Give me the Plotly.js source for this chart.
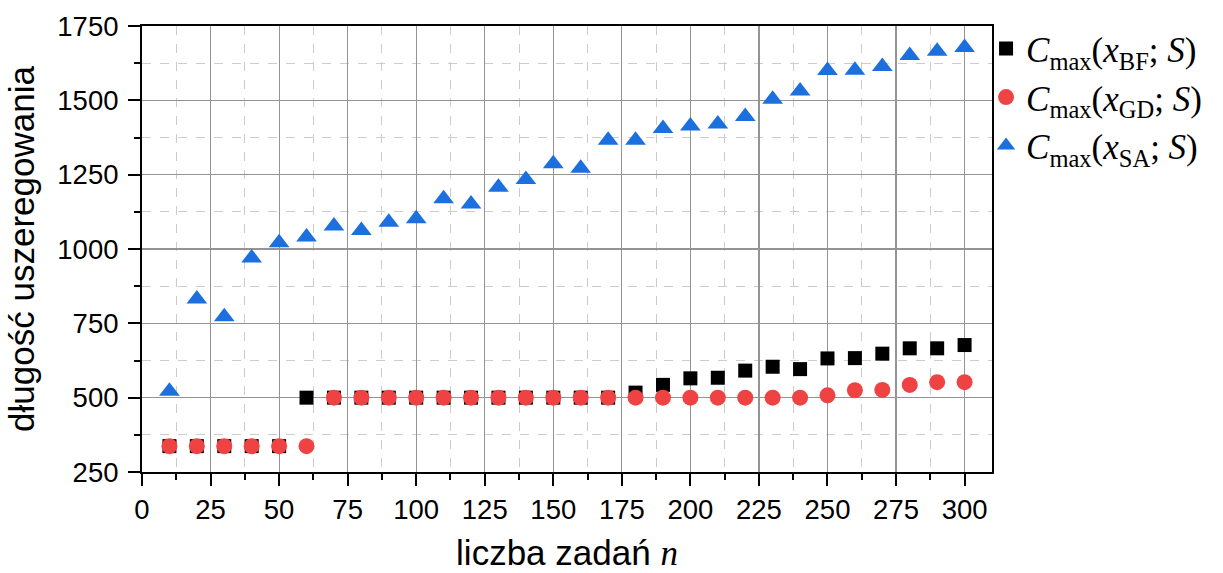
<!DOCTYPE html>
<html>
<head>
<meta charset="utf-8">
<script src="https://cdn.plot.ly/plotly-3.0.1.min.js"></script>
<style>
html,body{margin:0;padding:0;background:#fff;}
#chart{width:1223px;height:573px;}
</style>
</head>
<body>
<div id="chart"></div>
<script>
const nValues = [10,20,30,40,50,60,70,80,90,100,110,120,130,140,150,160,170,180,190,200,210,220,230,240,250,260,270,280,290,300];
const cmaxBF = [337,337,337,337,337,500,500,500,500,500,500,500,500,500,500,500,500,517,543,565,567,591,604,596,632,633,648,666,666,677];
const cmaxGD = [337,337,337,337,337,337,500,500,500,500,500,500,500,500,500,500,500,500,500,500,500,500,500,500,508,525,526,543,552,552];
const cmaxSA = [522,832,772,970,1021,1040,1077,1062,1090,1102,1169,1151,1208,1234,1287,1272,1366,1366,1405,1414,1420,1446,1504,1531,1600,1601,1614,1651,1665,1678];
const seriesNames = [
  '<i>C</i><sub>max</sub>(<i>x</i><sub>BF</sub>; <i>S</i>)',
  '<i>C</i><sub>max</sub>(<i>x</i><sub>GD</sub>; <i>S</i>)',
  '<i>C</i><sub>max</sub>(<i>x</i><sub>SA</sub>; <i>S</i>)'
];
const xTickVals = [0,25,50,75,100,125,150,175,200,225,250,275,300];
const yTickVals = [250,500,750,1000,1250,1500,1750];
const xTitle = 'liczba zadań <i style="font-family:\'Liberation Serif\'">n</i>';
const yTitle = 'długość uszeregowania';

const traces = [
  {x:nValues, y:cmaxBF, name:seriesNames[0], type:'scatter', mode:'markers',
   marker:{symbol:'square', size:14, color:'#000000'}},
  {x:nValues, y:cmaxGD, name:seriesNames[1], type:'scatter', mode:'markers',
   marker:{symbol:'circle', size:16, color:'#EF4343'}},
  {x:nValues, y:cmaxSA, name:seriesNames[2], type:'scatter', mode:'markers',
   marker:{symbol:'triangle-up', size:18, color:'#1B6FDE'}}
];

const axisCommon = {
  showline:true, linecolor:'#000', linewidth:2, mirror:true,
  ticks:'outside', ticklen:12, tickwidth:2, tickcolor:'#000',
  showgrid:true, gridcolor:'#949494', gridwidth:1.2,
  zeroline:false,
  tickfont:{family:'Liberation Sans, Arial, sans-serif', size:27.5, color:'#000'}
};

const layout = {
  width:1223, height:573,
  margin:{l:142, r:231, t:26, b:101},
  paper_bgcolor:'#fff', plot_bgcolor:'#fff',
  showlegend:true,
  legend:{x:0.993, xanchor:'left', y:1.015, yanchor:'top',
    font:{family:'Liberation Serif, DejaVu Serif, serif', size:35, color:'#000'},
    bgcolor:'rgba(0,0,0,0)', itemwidth:30, tracegroupgap:0},
  xaxis: Object.assign({}, axisCommon, {
    range:[0,310], tickmode:'array', tickvals:xTickVals, ticktext:xTickVals.map(String),
    minor:{dtick:12.5, tick0:0, showgrid:true, gridcolor:'#cccccc', griddash:'dash', gridwidth:1,
           ticks:'outside', ticklen:6, tickwidth:2, tickcolor:'#000'},
    title:{text:xTitle, standoff:20, font:{family:'Liberation Sans, Arial, sans-serif', size:35, color:'#000'}}
  }),
  yaxis: Object.assign({}, axisCommon, {
    range:[250,1750], tickmode:'array', tickvals:yTickVals, ticktext:yTickVals.map(String),
    ticklabelstandoff:4,
    minor:{dtick:125, tick0:250, showgrid:true, gridcolor:'#cccccc', griddash:'dash', gridwidth:1,
           ticks:'outside', ticklen:6, tickwidth:2, tickcolor:'#000'},
    title:{text:yTitle, standoff:12, font:{family:'Liberation Sans, Arial, sans-serif', size:35, color:'#000'}}
  })
};

Plotly.newPlot('chart', traces, layout, {displayModeBar:false, staticPlot:true});
</script>
</body>
</html>
